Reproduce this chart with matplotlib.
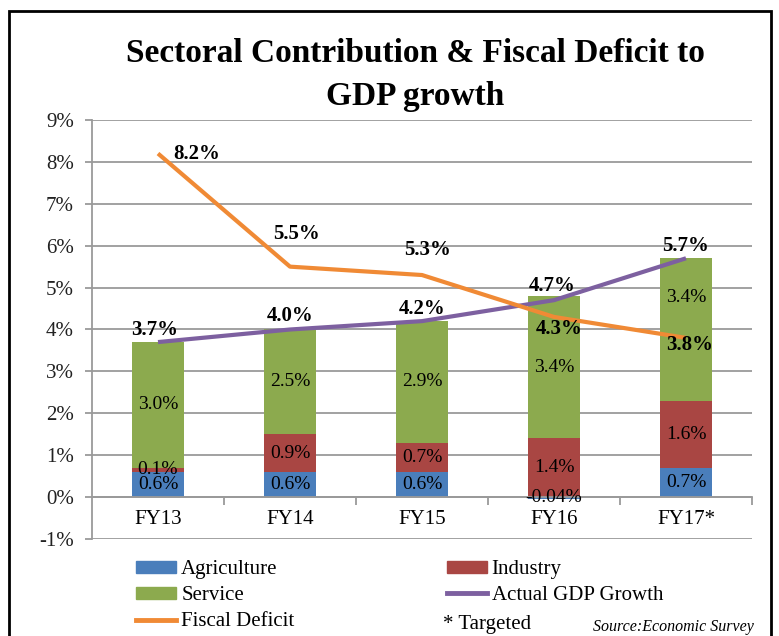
import numpy as np
import matplotlib.pyplot as plt
from matplotlib.patches import Patch, Rectangle
from matplotlib.lines import Line2D

plt.rcParams['font.family'] = ['Liberation Serif', 'DejaVu Serif']

# data
years = ['FY13', 'FY14', 'FY15', 'FY16', 'FY17*']
agri = [0.6, 0.6, 0.6, -0.04, 0.7]
industry = [0.1, 0.9, 0.7, 1.4, 1.6]
service = [3.0, 2.5, 2.9, 3.4, 3.4]
gdp = [3.7, 4.0, 4.2, 4.7, 5.7]
fiscal = [8.2, 5.5, 5.3, 4.3, 3.8]

agri_lbl = ['0.6%', '0.6%', '0.6%', '-0.04%', '0.7%']
ind_lbl = ['0.1%', '0.9%', '0.7%', '1.4%', '1.6%']
srv_lbl = ['3.0%', '2.5%', '2.9%', '3.4%', '3.4%']

c_agri, c_ind, c_srv = '#4A7EBB', '#A94643', '#8CAA4E'
c_gdp, c_fis = '#7D60A0', '#F08A35'

fig = plt.figure(figsize=(7.79, 6.36), dpi=100)
ax = fig.add_axes([92/779, 1-539/636, 660/779, 419/636])

x = np.arange(len(years))
a = np.array(agri)
i = np.array(industry)
s = np.array(service)
pos_a = np.where(a > 0, a, 0)
w = 0.4

b1 = ax.bar(x, a, w, color=c_agri, zorder=2)
b2 = ax.bar(x, i, w, bottom=pos_a, color=c_ind, zorder=2)
b3 = ax.bar(x, s, w, bottom=pos_a + i, color=c_srv, zorder=2)
ax.bar_label(b1, labels=agri_lbl, label_type='center', fontsize=14, zorder=5)
ax.bar_label(b2, labels=ind_lbl, label_type='center', fontsize=14, zorder=5)
srv_txt = ax.bar_label(b3, labels=srv_lbl, label_type='center', fontsize=14, zorder=5)
srv_txt[4].xyann = (0, 23)  # moved up, as in the original

ax.plot(x, gdp, color=c_gdp, lw=3, zorder=3, solid_capstyle='butt')
ax.plot(x, fiscal, color=c_fis, lw=3, zorder=3, solid_capstyle='butt')

# label offsets in pixels
gdp_off = [(-3, 12), (0, 13), (0, 12), (-2, 14), (0, 12)]
fis_off = [(39, 0), (6, 33), (6, 25), (5, -12), (4, -7)]
for k in range(len(years)):
    ax.annotate(f'{gdp[k]:.1f}%', (x[k], gdp[k]), xytext=gdp_off[k], textcoords='offset pixels',
                ha='center', va='center', fontsize=15, fontweight='bold', zorder=6)
    ax.annotate(f'{fiscal[k]:.1f}%', (x[k], fiscal[k]), xytext=fis_off[k], textcoords='offset pixels',
                ha='center', va='center', fontsize=15, fontweight='bold', zorder=6)

ax.set_xlim(-0.5, 4.5)
ax.set_ylim(-1, 9)
ax.set_yticks(range(-1, 10))
ax.set_yticklabels([f'{v}%' for v in range(-1, 10)], fontsize=15, color='#222222')
ax.grid(axis='y', color='#9a9a9a', lw=1.3, zorder=0)
ax.set_axisbelow(True)
for sp in ['top', 'right']:
    ax.spines[sp].set_visible(False)
ax.spines['left'].set_color('#9a9a9a')
ax.spines['left'].set_linewidth(1.3)
ax.spines['bottom'].set_position(('data', 0))
ax.spines['bottom'].set_color('#9a9a9a')
ax.spines['bottom'].set_linewidth(1.3)
ax.tick_params(axis='y', length=5, color='#9a9a9a', width=1.3, pad=8)
ax.set_xticks(x)
ax.set_xticklabels(years, fontsize=15)
ax.tick_params(axis='x', length=0, pad=9)
ax.set_xticks(np.arange(0.5, 5, 1), minor=True)
ax.tick_params(axis='x', which='minor', length=6, color='#9a9a9a', width=1.3, direction='out')

fig.text(415/779, 1-54/636, 'Sectoral Contribution & Fiscal Deficit to', ha='center', va='center',
         fontsize=24, fontweight='bold')
fig.text(415/779, 1-96/636, 'GDP growth', ha='center', va='center', fontsize=24, fontweight='bold')

handles = [Patch(color=c_agri), Patch(color=c_srv), Line2D([], [], color=c_fis, lw=3.5),
           Patch(color=c_ind), Line2D([], [], color=c_gdp, lw=3.5)]
labels = ['Agriculture', 'Service', 'Fiscal Deficit', 'Industry', 'Actual GDP Growth']
fig.legend(handles, labels, ncol=2, loc='upper left', bbox_to_anchor=(136/779, 1-560/636),
           frameon=False, fontsize=15, handlelength=1.92, handleheight=0.5, handletextpad=0.25,
           labelspacing=0.34, columnspacing=7.3, borderaxespad=0, borderpad=0)

fig.text(443/779, 1-625/636, '* Targeted', ha='left', va='center', fontsize=15)
fig.text(754/779, 1-627/636, 'Source:Economic Survey', ha='right', va='center', fontsize=11.5,
         style='italic')

fig.add_artist(Rectangle((9/779, -0.05), 762/779, 1.05 - 11/636, transform=fig.transFigure,
                         fill=False, ec='black', lw=2))

fig.savefig('out.png', dpi=100)
